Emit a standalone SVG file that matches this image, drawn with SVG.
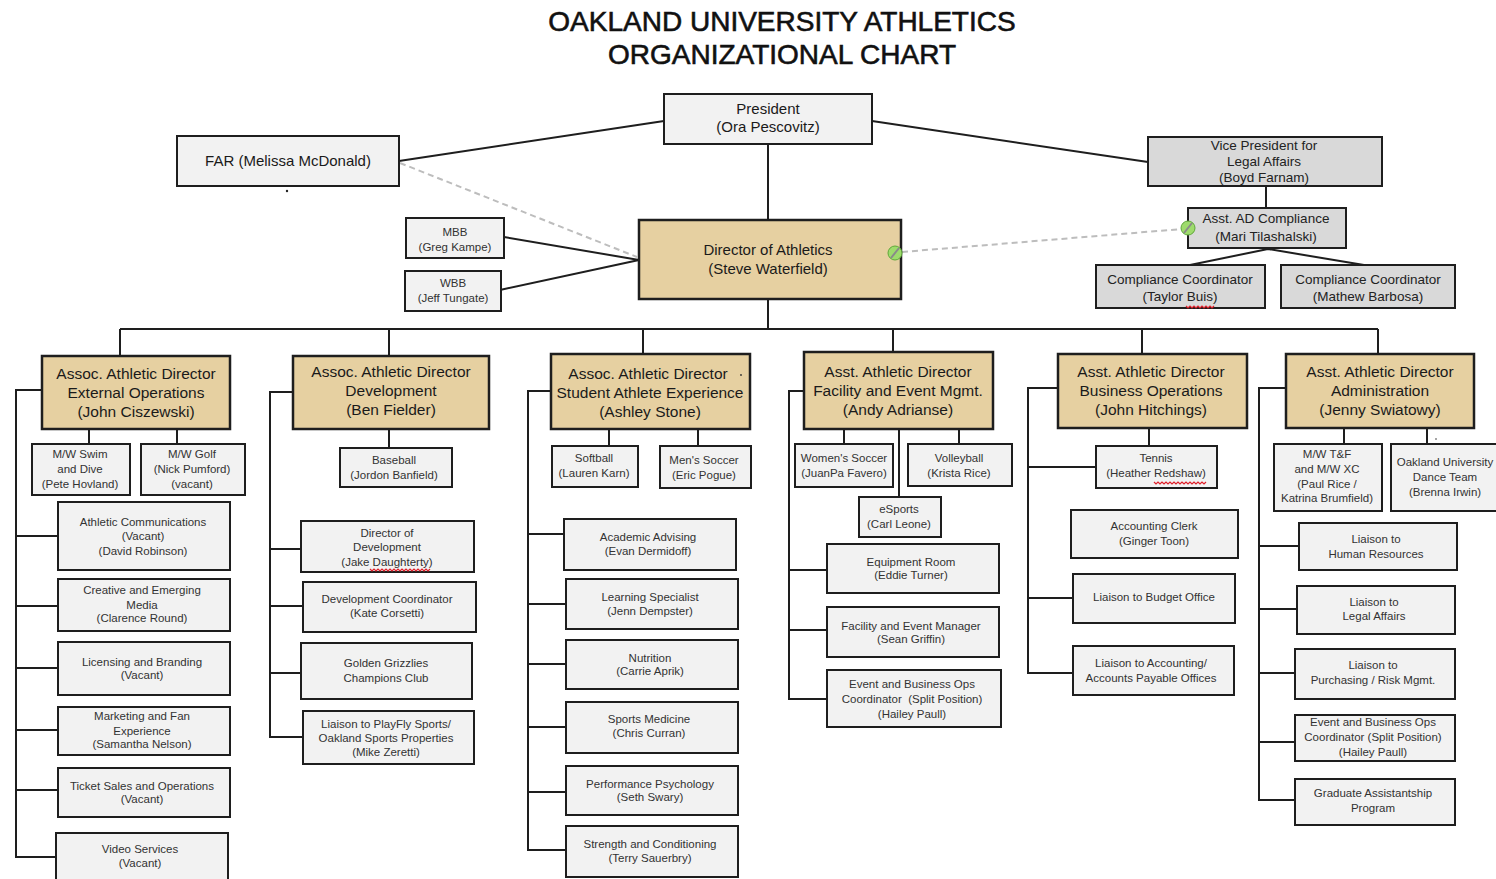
<svg xmlns="http://www.w3.org/2000/svg" width="1496" height="879" viewBox="0 0 1496 879">
<style>
.box{fill:#f2f2f2;stroke:#1e1e1e;stroke-width:2}
.gray{fill:#d9d9d9;stroke:#1e1e1e;stroke-width:2}
.head{fill:#e6d0a1;stroke:#1e1e1e;stroke-width:2.5}
text{font-family:"Liberation Sans",Arial,sans-serif;text-anchor:middle}
.s{font-size:11.5px;fill:#333}
.m{font-size:13.5px;fill:#222}
.l{font-size:15px;fill:#1a1a1a}
.h{font-size:15.5px;fill:#1a1a1a}
.title{font-size:28px;fill:#111;stroke:#111;stroke-width:0.6}
.ln{stroke:#1e1e1e;stroke-width:2;fill:none}
.dash{stroke:#bdbdbd;stroke-width:2;fill:none;stroke-dasharray:6,4}
.sq{stroke:#e0202a;stroke-width:1.2;fill:none}
.gc{fill:#9edb6c;stroke:#5fa83a;stroke-width:1}
.gs{stroke:#8a8a8a;stroke-width:2}
</style>

<g id="title">
<text class="title" x="782" y="31">OAKLAND UNIVERSITY ATHLETICS</text>
<text class="title" x="782" y="64">ORGANIZATIONAL CHART</text>
</g>

<g id="connectors">
<path class="ln" d="M664,121 L399,161"/>
<path class="ln" d="M872,121 L1148,162"/>
<path class="ln" d="M768,145 V220"/>
<path class="dash" d="M400,163 L637,257"/>
<path class="ln" d="M504,237 L639,260"/>
<path class="ln" d="M500,290 L639,260"/>
<path class="ln" d="M1266,187 V208"/>
<path class="ln" d="M1268,249 L1190,265 M1268,249 L1364,265"/>
<path class="dash" d="M902,252 L1182,229"/>
<path class="ln" d="M768,299 V329 M120,329 H1378"/>
<path class="ln" d="M120,329 V356 M389,329 V356 M643,329 V354 M893,329 V352 M1142,329 V354 M1378,329 V354"/>
<path class="ln" d="M89,429 V444 M177,429 V444"/>
<path class="ln" d="M42,390 H16 V857 H56 M16,536 H58 M16,606 H58 M16,668 H58 M16,730 H58 M16,790 H58"/>
<path class="ln" d="M389,429 V448"/>
<path class="ln" d="M293,392 H270 V737 H303 M270,549 H301 M270,606 H303 M270,673 H301"/>
<path class="ln" d="M609,429 V446 M698,429 V446"/>
<path class="ln" d="M551,391 H528 V850 H566 M528,534 H564 M528,604 H566 M528,664 H566 M528,727 H566 M528,792 H566"/>
<path class="ln" d="M844,429 V444 M959,429 V444 M899,429 V497"/>
<path class="ln" d="M804,391 H789 V699 H827 M789,570 H827 M789,630 H827"/>
<path class="ln" d="M1149,428 V446"/>
<path class="ln" d="M1058,388 H1028 V673 H1073 M1028,467 H1096 M1028,598 H1073"/>
<path class="ln" d="M1344,428 V444 M1427,428 V444"/>
<path class="ln" d="M1286,388 H1259 V800 H1295 M1259,546 H1299 M1259,609 H1297 M1259,673 H1295 M1259,742 H1295"/>
</g>

<g id="president"><rect class="box" x="664" y="94" width="208" height="50"/>
<text class="l" x="768" y="114">President</text><text class="l" x="768" y="132">(Ora Pescovitz)</text></g>
<g id="far"><rect class="box" x="177" y="136" width="222" height="50"/>
<text class="l" x="288" y="166">FAR (Melissa McDonald)</text>
<circle cx="287" cy="191" r="1.2" fill="#222"/></g>
<g id="vp-legal"><rect class="gray" x="1148" y="137" width="234" height="49"/>
<text class="m" x="1264" y="150">Vice President for</text><text class="m" x="1264" y="166">Legal Affairs</text><text class="m" x="1264" y="182">(Boyd Farnam)</text></g>
<g id="director"><rect class="head" x="639" y="220" width="262" height="79"/>
<text class="l" x="768" y="255">Director of Athletics</text><text class="l" x="768" y="274">(Steve Waterfield)</text>
<circle class="gc" cx="895" cy="253" r="7"/><line class="gs" x1="891" y1="258" x2="899" y2="248"/></g>
<g id="mbb"><rect class="box" x="406" y="218" width="98" height="40"/>
<text class="s" x="455" y="236">MBB</text><text class="s" x="455" y="251">(Greg Kampe)</text></g>
<g id="wbb"><rect class="box" x="405" y="271" width="96" height="40"/>
<text class="s" x="453" y="287">WBB</text><text class="s" x="453" y="302">(Jeff Tungate)</text></g>
<g id="asst-ad-compliance"><rect class="gray" x="1188" y="208" width="158" height="40"/>
<text class="m" x="1266" y="223">Asst. AD Compliance</text><text class="m" x="1266" y="241">(Mari Tilashalski)</text>
<circle class="gc" cx="1188" cy="228" r="7"/><line class="gs" x1="1184" y1="233" x2="1192" y2="223"/></g>
<g id="cc-buis"><rect class="gray" x="1096" y="265" width="169" height="43"/>
<text class="m" x="1180" y="284">Compliance Coordinator</text><text class="m" x="1180" y="301">(Taylor Buis)</text>
<path class="sq" d="M1186,306 l2,2 l2,-2 l2,2 l2,-2 l2,2 l2,-2 l2,2 l2,-2 l2,2 l2,-2 l2,2 l2,-2 l2,2 l2,-2"/></g>
<g id="cc-barbosa"><rect class="gray" x="1281" y="265" width="174" height="43"/>
<text class="m" x="1368" y="284">Compliance Coordinator</text><text class="m" x="1368" y="301">(Mathew Barbosa)</text></g>

<g id="external-ops"><rect class="head" x="42" y="356" width="188" height="73"/>
<text class="h" x="136" y="379">Assoc. Athletic Director</text><text class="h" x="136" y="398">External Operations</text><text class="h" x="136" y="417">(John Ciszewski)</text></g>
<g id="development"><rect class="head" x="293" y="356" width="196" height="73"/>
<text class="h" x="391" y="377">Assoc. Athletic Director</text><text class="h" x="391" y="396">Development</text><text class="h" x="391" y="415">(Ben Fielder)</text></g>
<g id="student-athlete"><rect class="head" x="551" y="354" width="199" height="75"/>
<text class="h" x="648" y="379">Assoc. Athletic Director</text><text class="h" x="650" y="398">Student Athlete Experience</text><text class="h" x="650" y="417">(Ashley Stone)</text>
<circle cx="741" cy="375" r="0.9" fill="#333"/></g>
<g id="facility-event"><rect class="head" x="804" y="352" width="189" height="77"/>
<text class="h" x="898" y="377">Asst. Athletic Director</text><text class="h" x="898" y="396">Facility and Event Mgmt.</text><text class="h" x="898" y="415">(Andy Adrianse)</text></g>
<g id="business-ops"><rect class="head" x="1058" y="354" width="189" height="74"/>
<text class="h" x="1151" y="377">Asst. Athletic Director</text><text class="h" x="1151" y="396">Business Operations</text><text class="h" x="1151" y="415">(John Hitchings)</text></g>
<g id="administration"><rect class="head" x="1286" y="354" width="188" height="74"/>
<text class="h" x="1380" y="377">Asst. Athletic Director</text><text class="h" x="1380" y="396">Administration</text><text class="h" x="1380" y="415">(Jenny Swiatowy)</text></g>

<g id="swim"><rect class="box" x="32" y="444" width="98" height="51"/>
<text class="s" x="80" y="458">M/W Swim</text><text class="s" x="80" y="473">and Dive</text><text class="s" x="80" y="488">(Pete Hovland)</text></g>
<g id="golf"><rect class="box" x="141" y="444" width="104" height="51"/>
<text class="s" x="192" y="458">M/W Golf</text><text class="s" x="192" y="473">(Nick Pumford)</text><text class="s" x="192" y="488">(vacant)</text></g>
<g id="athletic-comm"><rect class="box" x="58" y="502" width="172" height="68"/>
<text class="s" x="143" y="526">Athletic Communications</text><text class="s" x="143" y="540">(Vacant)</text><text class="s" x="143" y="555">(David Robinson)</text></g>
<g id="creative-media"><rect class="box" x="58" y="579" width="172" height="52"/>
<text class="s" x="142" y="594">Creative and Emerging</text><text class="s" x="142" y="609">Media</text><text class="s" x="142" y="622">(Clarence Round)</text></g>
<g id="licensing"><rect class="box" x="58" y="642" width="172" height="53"/>
<text class="s" x="142" y="666">Licensing and Branding</text><text class="s" x="142" y="679">(Vacant)</text></g>
<g id="marketing"><rect class="box" x="58" y="707" width="172" height="48"/>
<text class="s" x="142" y="720">Marketing and Fan</text><text class="s" x="142" y="735">Experience</text><text class="s" x="142" y="748">(Samantha Nelson)</text></g>
<g id="ticket-sales"><rect class="box" x="58" y="768" width="172" height="49"/>
<text class="s" x="142" y="790">Ticket Sales and Operations</text><text class="s" x="142" y="803">(Vacant)</text></g>
<g id="video"><rect class="box" x="56" y="833" width="172" height="60"/>
<text class="s" x="140" y="853">Video Services</text><text class="s" x="140" y="867">(Vacant)</text></g>

<g id="baseball"><rect class="box" x="340" y="448" width="112" height="39"/>
<text class="s" x="394" y="464">Baseball</text><text class="s" x="394" y="479">(Jordon Banfield)</text></g>
<g id="dir-development"><rect class="box" x="301" y="521" width="173" height="51"/>
<text class="s" x="387" y="537">Director of</text><text class="s" x="387" y="551">Development</text><text class="s" x="387" y="566">(Jake Daughterty)</text>
<path class="sq" d="M370,569 l2,2 l2,-2 l2,2 l2,-2 l2,2 l2,-2 l2,2 l2,-2 l2,2 l2,-2 l2,2 l2,-2 l2,2 l2,-2 l2,2 l2,-2 l2,2 l2,-2 l2,2 l2,-2 l2,2 l2,-2 l2,2 l2,-2 l2,2 l2,-2 l2,2 l2,-2 l2,2 l2,-2"/></g>
<g id="dev-coordinator"><rect class="box" x="303" y="582" width="173" height="50"/>
<text class="s" x="387" y="603">Development Coordinator</text><text class="s" x="387" y="617">(Kate Corsetti)</text></g>
<g id="champions-club"><rect class="box" x="301" y="643" width="171" height="56"/>
<text class="s" x="386" y="667">Golden Grizzlies</text><text class="s" x="386" y="682">Champions Club</text></g>
<g id="playfly"><rect class="box" x="303" y="711" width="171" height="53"/>
<text class="s" x="386" y="728">Liaison to PlayFly Sports/</text><text class="s" x="386" y="742">Oakland Sports Properties</text><text class="s" x="386" y="756">(Mike Zeretti)</text></g>

<g id="softball"><rect class="box" x="552" y="446" width="86" height="41"/>
<text class="s" x="594" y="462">Softball</text><text class="s" x="594" y="477">(Lauren Karn)</text></g>
<g id="mens-soccer"><rect class="box" x="660" y="446" width="91" height="42"/>
<text class="s" x="704" y="464">Men's Soccer</text><text class="s" x="704" y="479">(Eric Pogue)</text></g>
<g id="academic-advising"><rect class="box" x="564" y="519" width="172" height="51"/>
<text class="s" x="648" y="541">Academic Advising</text><text class="s" x="648" y="555">(Evan Dermidoff)</text></g>
<g id="learning-specialist"><rect class="box" x="566" y="579" width="172" height="50"/>
<text class="s" x="650" y="601">Learning Specialist</text><text class="s" x="650" y="615">(Jenn Dempster)</text></g>
<g id="nutrition"><rect class="box" x="566" y="640" width="172" height="49"/>
<text class="s" x="650" y="662">Nutrition</text><text class="s" x="650" y="675">(Carrie Aprik)</text></g>
<g id="sports-medicine"><rect class="box" x="566" y="702" width="172" height="51"/>
<text class="s" x="649" y="723">Sports Medicine</text><text class="s" x="649" y="737">(Chris Curran)</text></g>
<g id="performance-psych"><rect class="box" x="566" y="766" width="172" height="49"/>
<text class="s" x="650" y="788">Performance Psychology</text><text class="s" x="650" y="801">(Seth Swary)</text></g>
<g id="strength"><rect class="box" x="566" y="826" width="172" height="51"/>
<text class="s" x="650" y="848">Strength and Conditioning</text><text class="s" x="650" y="862">(Terry Sauerbry)</text></g>

<g id="womens-soccer"><rect class="box" x="795" y="444" width="98" height="43"/>
<text class="s" x="844" y="462">Women's Soccer</text><text class="s" x="844" y="477">(JuanPa Favero)</text></g>
<g id="volleyball"><rect class="box" x="908" y="444" width="104" height="42"/>
<text class="s" x="959" y="462">Volleyball</text><text class="s" x="959" y="477">(Krista Rice)</text></g>
<g id="esports"><rect class="box" x="859" y="497" width="82" height="40"/>
<text class="s" x="899" y="513">eSports</text><text class="s" x="899" y="528">(Carl Leone)</text></g>
<g id="equipment-room"><rect class="box" x="827" y="544" width="172" height="49"/>
<text class="s" x="911" y="566">Equipment Room</text><text class="s" x="911" y="579">(Eddie Turner)</text></g>
<g id="facility-manager"><rect class="box" x="827" y="607" width="172" height="50"/>
<text class="s" x="911" y="630">Facility and Event Manager</text><text class="s" x="911" y="643">(Sean Griffin)</text></g>
<g id="event-ops-facility"><rect class="box" x="827" y="670" width="174" height="57"/>
<text class="s" x="912" y="688">Event and Business Ops</text><text class="s" x="912" y="703" xml:space="preserve">Coordinator  (Split Position)</text><text class="s" x="912" y="718">(Hailey Paull)</text></g>

<g id="tennis"><rect class="box" x="1096" y="446" width="121" height="42"/>
<text class="s" x="1156" y="462">Tennis</text><text class="s" x="1156" y="477">(Heather Redshaw)</text>
<path class="sq" d="M1154,482 l2,2 l2,-2 l2,2 l2,-2 l2,2 l2,-2 l2,2 l2,-2 l2,2 l2,-2 l2,2 l2,-2 l2,2 l2,-2 l2,2 l2,-2 l2,2 l2,-2 l2,2 l2,-2 l2,2 l2,-2 l2,2 l2,-2 l2,2 l2,-2"/></g>
<g id="accounting-clerk"><rect class="box" x="1071" y="510" width="167" height="48"/>
<text class="s" x="1154" y="530">Accounting Clerk</text><text class="s" x="1154" y="545">(Ginger Toon)</text></g>
<g id="budget-office"><rect class="box" x="1073" y="574" width="162" height="49"/>
<text class="s" x="1154" y="601">Liaison to Budget Office</text></g>
<g id="accounts-payable"><rect class="box" x="1073" y="646" width="161" height="49"/>
<text class="s" x="1151" y="667">Liaison to Accounting/</text><text class="s" x="1151" y="682">Accounts Payable Offices</text></g>

<g id="track-field"><rect class="box" x="1274" y="444" width="108" height="67"/>
<text class="s" x="1327" y="458">M/W T&amp;F</text><text class="s" x="1327" y="473">and M/W XC</text><text class="s" x="1327" y="488">(Paul Rice /</text><text class="s" x="1327" y="502">Katrina Brumfield)</text></g>
<g id="dance-team"><rect class="box" x="1391" y="444" width="110" height="67"/>
<text class="s" x="1445" y="466">Oakland University</text><text class="s" x="1445" y="481">Dance Team</text><text class="s" x="1445" y="496">(Brenna Irwin)</text>
<circle cx="1436" cy="439" r="0.8" fill="#333"/></g>
<g id="human-resources"><rect class="box" x="1299" y="523" width="158" height="47"/>
<text class="s" x="1376" y="543">Liaison to</text><text class="s" x="1376" y="558">Human Resources</text></g>
<g id="legal-affairs"><rect class="box" x="1297" y="586" width="158" height="48"/>
<text class="s" x="1374" y="606">Liaison to</text><text class="s" x="1374" y="620">Legal Affairs</text></g>
<g id="purchasing"><rect class="box" x="1295" y="649" width="160" height="50"/>
<text class="s" x="1373" y="669">Liaison to</text><text class="s" x="1373" y="684">Purchasing / Risk Mgmt.</text></g>
<g id="event-ops-admin"><rect class="box" x="1295" y="715" width="160" height="46"/>
<text class="s" x="1373" y="726">Event and Business Ops</text><text class="s" x="1373" y="741">Coordinator (Split Position)</text><text class="s" x="1373" y="756">(Hailey Paull)</text></g>
<g id="graduate-assistantship"><rect class="box" x="1295" y="779" width="160" height="46"/>
<text class="s" x="1373" y="797">Graduate Assistantship</text><text class="s" x="1373" y="812">Program</text></g>
</svg>
